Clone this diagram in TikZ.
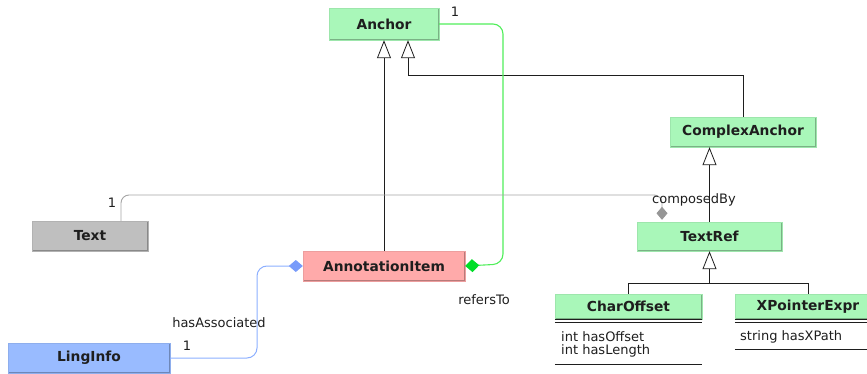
\documentclass[tikz,border=0pt]{standalone}
\usepackage{fontspec}
\setmainfont{DejaVu Sans}
\usetikzlibrary{arrows.meta}
\definecolor{gfill}{RGB}{169,247,185}
\definecolor{pfill}{RGB}{255,170,170}
\definecolor{grayfill}{RGB}{191,191,191}
\definecolor{bfill}{RGB}{153,187,255}
\definecolor{ink}{RGB}{30,30,30}
\definecolor{gline}{RGB}{80,238,90}
\definecolor{gdia}{RGB}{0,222,40}
\definecolor{bline}{RGB}{140,175,255}
\definecolor{bdia}{RGB}{120,155,250}
\definecolor{grline}{RGB}{165,165,165}
\definecolor{grdia}{RGB}{150,150,150}
\newcommand\mycls{\fontsize{13.8}{16}\selectfont\bfseries}
\newcommand\mylbl{\fontsize{13}{15}\selectfont}
\tikzset{
  cls/.style={fill=#1, draw=#1!93!black, line width=0.4pt, minimum height=30pt,
    inner sep=0pt, font=\mycls, text=ink,
    path picture={\draw[#1!72!black, line width=1.4pt]
      (path picture bounding box.north east) -- (path picture bounding box.south east)
      -- (path picture bounding box.south west);}},
  gen/.style={-{Triangle[open,length=18pt,width=14pt,fill=white]}, line width=0.8pt, draw=ink},
  plain/.style={line width=0.8pt, draw=ink},
  lbl/.style={font=\mylbl, text=ink, inner sep=0pt},
  compgreen/.style={draw=gline, line width=1.1pt, rounded corners=10pt,
    -{Diamond[length=14pt,width=13pt,fill=gdia,color=gdia]}},
  compblue/.style={draw=bline, line width=1pt, rounded corners=10pt,
    -{Diamond[length=14pt,width=12pt,fill=bdia,color=bdia]}},
  compgray/.style={draw=grline, line width=0.9pt, rounded corners=8pt,
    -{Diamond[length=13pt,width=11pt,fill=grdia,color=grdia]}},
}
\begin{document}
\begin{tikzpicture}[x=1pt,y=-1pt]
\useasboundingbox (0,0) rectangle (867,374);
\clip (0,0) rectangle (867,374);

% classes
\node[cls=gfill, minimum width=110pt, minimum height=32pt] (anchor) at (384,24) {Anchor};
\node[cls=pfill, minimum width=162pt] (annot) at (384,266) {AnnotationItem};
\node[cls=grayfill, minimum width=116pt] (text) at (90,236) {Text};
\node[cls=bfill, minimum width=162pt] (ling) at (89,358) {LingInfo};
\node[cls=gfill, minimum width=146pt] (complex) at (743,132) {ComplexAnchor};
\node[cls=gfill, minimum width=145pt, minimum height=29pt] (textref) at (709.5,236.5) {TextRef};
\node[cls=gfill, minimum width=147pt, minimum height=25pt] (charoff) at (628.5,306.5) {CharOffset};
\node[cls=gfill, minimum width=146pt, minimum height=25pt] (xptr) at (808,306.5) {XPointerExpr};

% compartments
\draw[ink, line width=1.3pt] (charoff.south west) -- (charoff.south east);
\draw[ink, line width=0.6pt] ([yshift=-3pt]charoff.south west) -- ([yshift=-3pt]charoff.south east);
\draw[ink, line width=1.3pt] (xptr.south west) -- (xptr.south east);
\draw[ink, line width=0.6pt] ([yshift=-3pt]xptr.south west) -- ([yshift=-3pt]xptr.south east);
\node[lbl, anchor=west] (co1) at (561,337) {int hasOffset};
\node[lbl, anchor=west] (co2) at (561,351) {int hasLength};
\node[lbl, anchor=west] (xp1) at (740,337) {string hasXPath};
\draw[ink, line width=0.8pt] (charoff.west |- 0,364) -- (charoff.east |- 0,364);
\draw[ink, line width=0.8pt] (xptr.west |- 0,349) -- (xptr.east |- 0,349);

% generalizations
\coordinate (bend1) at (408,75);
\coordinate (jn) at (709.5,283);
\draw[gen] (annot.north) -- (annot.north |- anchor.south);
\draw[gen] (complex.north) |- (bend1) -- (bend1 |- anchor.south);
\draw[gen] (textref.north) -- (textref.north |- complex.south);
\draw[plain] (charoff.north) |- (jn);
\draw[plain] (xptr.north) |- (jn);
\draw[gen] (jn) -- (textref.south);

% associations
\coordinate (gc) at (503,264);
\draw[compgreen] (anchor.east) -| (gc) -- (annot.east);
\coordinate (bc) at (257,266);
\draw[compblue] (ling.east) -| (bc) -- (annot.west);
\coordinate (tc1) at (121,195);
\coordinate (tc2) at (662,195);
\draw[compgray, shorten >=2pt] (text.north -| tc1) -- (tc1) -- (tc2) -- (tc2 |- textref.north);

% labels
\node[lbl] (m1) at (455,12) {1};
\node[lbl] (refersTo) at (484,300) {refersTo};
\node[lbl] (m2) at (112,203) {1};
\node[lbl] (composedBy) at (694,200) {composedBy};
\node[lbl] (hasAssoc) at (219,323) {hasAssociated};
\node[lbl] (m3) at (187,346) {1};
\end{tikzpicture}
\end{document}
